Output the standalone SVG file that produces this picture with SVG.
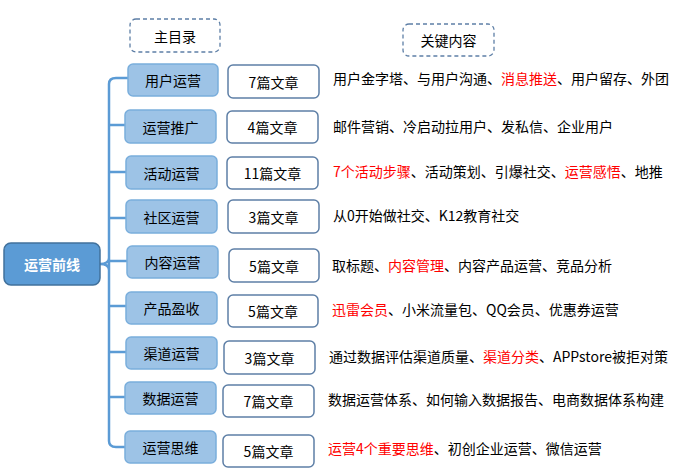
<svg xmlns="http://www.w3.org/2000/svg" width="693" height="473" viewBox="0 0 693 473">
<style>
text{font-family:"Noto Sans CJK SC","Liberation Sans",sans-serif;font-size:14px;fill:#000;dominant-baseline:central}
.c{text-anchor:middle}
.cat{fill:#9DC3E6;stroke:#7AAEDC;stroke-width:1.5}
.cnt{fill:#fff;stroke:#5E7FA6;stroke-width:1.5}
.hd{fill:#fff;stroke:#5E7FA6;stroke-width:1.3;stroke-dasharray:4 3}
.r{fill:#FF0000}
.ln{fill:none;stroke:#5B9BD5;stroke-width:2.5}
</style>
<g id="connectors">
<path class="ln" d="M100,264 Q109,264 109,270 M100,264 Q109,264 109,258 M109,84 V441 M109,84 Q109,78 116,78 H128 M109,441 Q109,447 116,447 H125 M109,125 H125 M109,172 H126 M109,218 H126 M109,261 H127 M109,306 H126 M109,352 H126 M109,397 H125"/>
</g>
<g id="hdr1"><rect class="hd" x="130" y="19" width="90" height="33" rx="6"/><text class="c" x="175" y="35.5">主目录</text></g>
<g id="hdr2"><rect class="hd" x="403" y="24" width="91" height="32" rx="6"/><text class="c" x="448.5" y="40">关键内容</text></g>
<g id="root"><rect x="4" y="243" width="96" height="42" rx="7" fill="#5B9BD5" stroke="#41719C" stroke-width="1.5"/><text class="c" x="52" y="264" style="fill:#fff;font-weight:bold">运营前线</text></g>
<g id="n1"><rect class="cat" x="128" y="64" width="90" height="32" rx="5"/><text class="c" x="173" y="80">用户运营</text><rect class="cnt" x="228" y="65" width="91" height="33" rx="5"/><text class="c" x="273.5" y="81.5">7篇文章</text><text x="333" y="78">用户金字塔、与用户沟通、<tspan class="r">消息推送</tspan>、用户留存、外团</text></g>
<g id="n2"><rect class="cat" x="125" y="110" width="91" height="33" rx="5"/><text class="c" x="170.5" y="126.5">运营推广</text><rect class="cnt" x="227" y="111" width="91" height="32" rx="5"/><text class="c" x="272.5" y="127">4篇文章</text><text x="333" y="126">邮件营销、冷启动拉用户、发私信、企业用户</text></g>
<g id="n3"><rect class="cat" x="126" y="156" width="91" height="33" rx="5"/><text class="c" x="171.5" y="172.5">活动运营</text><rect class="cnt" x="227" y="157" width="91" height="32" rx="5"/><text class="c" x="272.5" y="173">11篇文章</text><text x="333" y="171"><tspan class="r">7个活动步骤</tspan>、活动策划、引爆社交、<tspan class="r">运营感悟</tspan>、地推</text></g>
<g id="n4"><rect class="cat" x="126" y="200" width="91" height="33" rx="5"/><text class="c" x="171.5" y="216.5">社区运营</text><rect class="cnt" x="228" y="200" width="91" height="33" rx="5"/><text class="c" x="273.5" y="216.5">3篇文章</text><text x="333" y="215">从0开始做社交、K12教育社交</text></g>
<g id="n5"><rect class="cat" x="127" y="246" width="91" height="32" rx="5"/><text class="c" x="172.5" y="262">内容运营</text><rect class="cnt" x="229" y="249" width="90" height="33" rx="5"/><text class="c" x="274" y="265.5">5篇文章</text><text x="332" y="265">取标题、<tspan class="r">内容管理</tspan>、内容产品运营、竞品分析</text></g>
<g id="n6"><rect class="cat" x="126" y="292" width="91" height="32" rx="5"/><text class="c" x="171.5" y="308">产品盈收</text><rect class="cnt" x="228" y="295" width="90" height="32" rx="5"/><text class="c" x="273" y="311">5篇文章</text><text x="332" y="309"><tspan class="r">迅雷会员</tspan>、小米流量包、QQ会员、优惠券运营</text></g>
<g id="n7"><rect class="cat" x="126" y="337" width="91" height="32" rx="5"/><text class="c" x="171.5" y="353">渠道运营</text><rect class="cnt" x="224" y="341" width="91" height="33" rx="5"/><text class="c" x="269.5" y="357.5">3篇文章</text><text x="329" y="356">通过数据评估渠道质量、<tspan class="r">渠道分类</tspan>、APPstore被拒对策</text></g>
<g id="n8"><rect class="cat" x="125" y="382" width="91" height="32" rx="5"/><text class="c" x="170.5" y="398">数据运营</text><rect class="cnt" x="223" y="385" width="91" height="32" rx="5"/><text class="c" x="268.5" y="401">7篇文章</text><text x="328" y="399">数据运营体系、如何输入数据报告、电商数据体系构建</text></g>
<g id="n9"><rect class="cat" x="125" y="431" width="91" height="32" rx="5"/><text class="c" x="170.5" y="447">运营思维</text><rect class="cnt" x="223" y="435" width="91" height="32" rx="5"/><text class="c" x="268.5" y="451">5篇文章</text><text x="328" y="448"><tspan class="r">运营4个重要思维</tspan>、初创企业运营、微信运营</text></g>
</svg>
